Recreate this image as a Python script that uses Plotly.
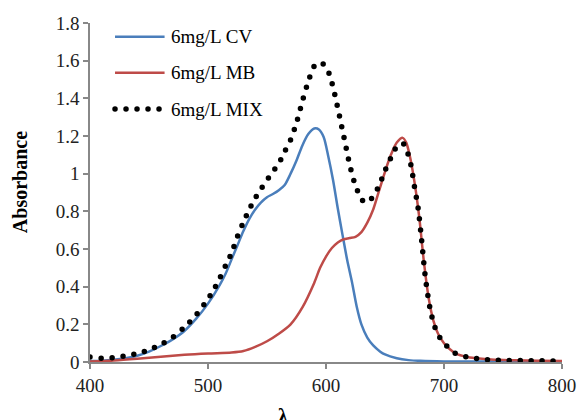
import plotly.graph_objects as go

# Absorption spectra (wavelength in nm, absorbance)
wl_cv = [400, 410, 420, 430, 440, 450, 460, 470, 480, 490, 500, 510, 515, 520, 525,
         530, 535, 540, 545, 550, 555, 560, 565, 570, 575, 580, 585, 590, 594, 598,
         602, 606, 610, 614, 618, 622, 626, 630, 635, 640, 646, 650, 660, 670, 680,
         700, 750, 800]
abs_cv = [0.005, 0.007, 0.012, 0.02, 0.033, 0.055, 0.085, 0.12, 0.165, 0.23, 0.31, 0.41,
          0.47, 0.545, 0.62, 0.695, 0.76, 0.81, 0.848, 0.875, 0.892, 0.912, 0.94, 1.0,
          1.07, 1.15, 1.21, 1.24, 1.235, 1.195, 1.09, 0.965, 0.815, 0.675, 0.54, 0.425,
          0.295, 0.2, 0.13, 0.088, 0.055, 0.04, 0.02, 0.01, 0.006, 0.003, 0.002, 0.001]

wl_mb = [400, 420, 440, 460, 480, 500, 520, 530, 540, 550, 560, 570, 580, 590, 595,
         600, 605, 610, 615, 620, 625, 630, 635, 640, 645, 650, 655, 660, 665, 668,
         671, 675, 679, 683, 687, 691, 695, 700, 705, 710, 720, 730, 740, 760, 780, 800]
abs_mb = [0.003, 0.008, 0.017, 0.028, 0.038, 0.045, 0.05, 0.058, 0.08, 0.11, 0.15, 0.2,
          0.29, 0.42, 0.5, 0.56, 0.605, 0.635, 0.652, 0.658, 0.665, 0.69, 0.74, 0.81,
          0.91, 1.01, 1.1, 1.165, 1.19, 1.165, 1.095, 0.955, 0.77, 0.53, 0.34, 0.22,
          0.15, 0.1, 0.068, 0.045, 0.027, 0.018, 0.013, 0.009, 0.007, 0.005]

wl_mix = [400, 410, 420, 430, 440, 450, 460, 470, 480, 490, 500, 505, 510, 515, 520,
          525, 530, 535, 540, 545, 550, 555, 560, 565, 570, 575, 580, 585, 590, 595,
          600, 604, 608, 612, 616, 620, 624, 628, 631, 634, 637, 640, 645, 650, 655,
          660, 663, 666, 669, 672, 675, 678, 681, 684, 688, 692, 696, 700, 705, 710,
          720, 730, 740, 750, 770, 800]
abs_mix = [0.027, 0.02, 0.023, 0.032, 0.045, 0.065, 0.093, 0.13, 0.185, 0.25, 0.335,
           0.385, 0.445, 0.513, 0.58, 0.667, 0.742, 0.81, 0.87, 0.92, 0.966, 1.01, 1.055,
           1.117, 1.18, 1.27, 1.385, 1.49, 1.57, 1.59, 1.567, 1.505, 1.405, 1.289, 1.17,
           1.05, 0.955, 0.89, 0.858, 0.847, 0.857, 0.88, 0.937, 1.015, 1.085, 1.145,
           1.16, 1.157, 1.115, 1.045, 0.93, 0.82, 0.65, 0.46, 0.29, 0.19, 0.135, 0.1,
           0.07, 0.045, 0.026, 0.016, 0.011, 0.009, 0.007, 0.005]

series_names = ["6mg/L CV", "6mg/L MB", "6mg/L MIX"]
x_ticks = [400, 500, 600, 700, 800]
y_ticks = [0, 0.2, 0.4, 0.6, 0.8, 1, 1.2, 1.4, 1.6, 1.8]

BLUE = "#4A7EBB"
RED = "#BE4B48"
BLACK = "#000000"
FONT = "Liberation Serif, Times New Roman, serif"

styles = [
    dict(color=BLUE, width=2.5, dash="solid"),
    dict(color=RED, width=2.5, dash="solid"),
    dict(color=BLACK, width=5.5, dash="0px,11px"),
]

fig = go.Figure()
for name, xs, ys, st in zip(series_names, [wl_cv, wl_mb, wl_mix],
                            [abs_cv, abs_mb, abs_mix], styles):
    fig.add_trace(go.Scatter(
        x=xs, y=ys, mode="lines", name=name, showlegend=False,
        line=dict(color=st["color"], width=st["width"], dash=st["dash"],
                  shape="spline", smoothing=0.8),
        hoverinfo="skip",
    ))

# Hand-drawn legend in the upper-left of the plot area
legend_y = [0.9596, 0.8534, 0.7463]
for name, st, ly in zip(series_names, styles, legend_y):
    fig.add_shape(type="line", xref="paper", yref="paper",
                  x0=0.053, x1=0.158, y0=ly, y1=ly,
                  line=dict(color=st["color"], width=st["width"], dash=st["dash"]))
    fig.add_annotation(xref="paper", yref="paper", x=0.167, y=ly,
                       xanchor="left", yanchor="middle", showarrow=False,
                       text=name, font=dict(family=FONT, size=19, color="#000"))

# Axis titles
fig.add_annotation(xref="paper", yref="paper", x=-0.148, y=0.531,
                   text="<b>Absorbance</b>", textangle=-90, showarrow=False,
                   xanchor="center", yanchor="middle",
                   font=dict(family=FONT, size=20, color="#000"))
fig.add_annotation(xref="paper", yref="paper", x=0.409, y=-0.158,
                   text="<b>λ</b>", showarrow=False,
                   xanchor="center", yanchor="middle",
                   font=dict(family=FONT, size=20, color="#000"))

axis_common = dict(
    showgrid=False, zeroline=False, showline=True, linecolor="#888888",
    linewidth=1.5, ticks="outside", ticklen=5, tickwidth=1.5, tickcolor="#888888",
    tickfont=dict(family=FONT, size=19, color="#222"), automargin=False,
)
fig.update_xaxes(range=[400, 800], tickvals=x_ticks, **axis_common)
fig.update_yaxes(range=[0, 1.8], tickvals=y_ticks, **axis_common)

fig.update_layout(
    width=579, height=420,
    margin=dict(l=90, r=17, t=23, b=58, autoexpand=False),
    plot_bgcolor="white", paper_bgcolor="white",
    showlegend=False,
)

# Round line caps turn the zero-length dashes into dots
post = """
var gd = document.getElementById('{plot_id}');
function roundDots() {
  gd.querySelectorAll('path').forEach(function (p) {
    var d = p.style.strokeDasharray || '';
    if (d.indexOf('0px') === 0 || d.indexOf('0,') === 0) {
      p.style.strokeLinecap = 'round';
    }
  });
}
roundDots();
gd.on('plotly_afterplot', roundDots);
"""

fig.write_html("out.html", post_script=post)
